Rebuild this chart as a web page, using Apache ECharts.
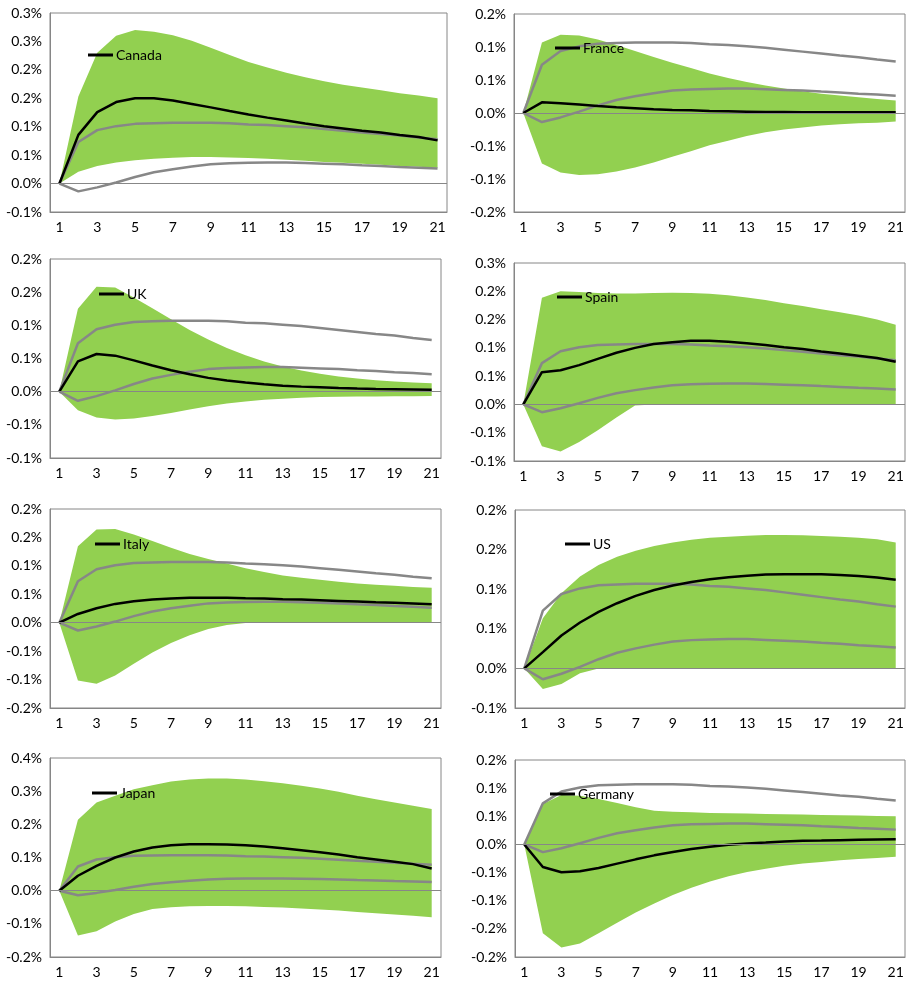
<!DOCTYPE html>
<html>
<head>
<meta charset="utf-8">
<script src="https://cdn.jsdelivr.net/npm/echarts@6/dist/echarts.min.js"></script>
<style>
  html, body { margin: 0; padding: 0; background: #fff; }
  #chart { width: 907px; height: 981px; }
</style>
</head>
<body>
<div id="chart"></div>
<script>
// horizon (periods)
var periods = ['1','2','3','4','5','6','7','8','9','10','11','12','13','14','15','16','17','18','19','20','21'];

// grey reference responses, same in every panel (%)
var refUpper = [0, 0.073, 0.094, 0.101, 0.105, 0.106, 0.107, 0.107, 0.107, 0.106, 0.104, 0.103, 0.101, 0.099, 0.096, 0.093, 0.090, 0.087, 0.0845, 0.081, 0.078];
var refLower = [0, -0.0137, -0.0067, 0.002, 0.0116, 0.0198, 0.0253, 0.030, 0.034, 0.0357, 0.0365, 0.037, 0.037, 0.036, 0.035, 0.034, 0.0324, 0.031, 0.0293, 0.028, 0.0263];

// country responses and bands (%)
var canadaIrf   = [0, 0.0856, 0.1257, 0.1434, 0.150, 0.150, 0.146, 0.140, 0.134, 0.1275, 0.1216, 0.116, 0.111, 0.1057, 0.101, 0.097, 0.093, 0.0897, 0.0856, 0.082, 0.076];
var canadaUpper = [0, 0.153, 0.23, 0.26, 0.27, 0.267, 0.261, 0.251, 0.239, 0.226, 0.214, 0.204, 0.195, 0.187, 0.18, 0.174, 0.169, 0.164, 0.159, 0.155, 0.150];
var canadaLower = [0, 0.0207, 0.031, 0.037, 0.041, 0.0437, 0.0454, 0.0466, 0.0466, 0.046, 0.0449, 0.0437, 0.042, 0.040, 0.038, 0.0366, 0.0348, 0.033, 0.031, 0.0295, 0.0277];

var franceIrf   = [0, 0.0162, 0.0147, 0.0127, 0.0106, 0.0086, 0.0071, 0.0056, 0.0046, 0.004, 0.003, 0.0025, 0.002, 0.0015, 0.0015, 0.0012, 0.001, 0.001, 0.001, 0.001, 0.001];
var franceUpper = [0, 0.107, 0.1186, 0.1176, 0.1115, 0.103, 0.094, 0.0847, 0.076, 0.068, 0.060, 0.053, 0.047, 0.0416, 0.037, 0.033, 0.029, 0.0264, 0.0238, 0.0213, 0.019];
var franceLower = [0, -0.0766, -0.090, -0.094, -0.0928, -0.0887, -0.0826, -0.075, -0.0664, -0.0578, -0.049, -0.042, -0.035, -0.029, -0.025, -0.0218, -0.019, -0.017, -0.0157, -0.0147, -0.013];

var ukIrf   = [0, 0.0456, 0.0568, 0.0543, 0.0472, 0.0395, 0.0324, 0.0264, 0.0208, 0.0167, 0.0137, 0.0112, 0.009, 0.0076, 0.0066, 0.0056, 0.0048, 0.0042, 0.0038, 0.0034, 0.003];
var ukUpper = [0, 0.125, 0.158, 0.157, 0.142, 0.1257, 0.109, 0.093, 0.0786, 0.066, 0.0548, 0.0456, 0.038, 0.032, 0.0269, 0.0228, 0.0198, 0.0172, 0.0152, 0.0137, 0.0127];
var ukLower = [0, -0.0279, -0.039, -0.042, -0.0406, -0.0365, -0.032, -0.0269, -0.0218, -0.0177, -0.0147, -0.0122, -0.0106, -0.009, -0.008, -0.0076, -0.0074, -0.0072, -0.007, -0.0068, -0.0066];

var spainIrf   = [0, 0.0569, 0.0605, 0.0694, 0.0806, 0.0913, 0.100, 0.1067, 0.110, 0.1127, 0.1127, 0.111, 0.108, 0.105, 0.101, 0.098, 0.0937, 0.090, 0.086, 0.082, 0.0753];
var spainUpper = [0, 0.1886, 0.200, 0.1987, 0.197, 0.196, 0.196, 0.197, 0.1975, 0.197, 0.1957, 0.193, 0.189, 0.1844, 0.179, 0.174, 0.1684, 0.163, 0.157, 0.150, 0.141];
var spainLower = [0, -0.074, -0.083, -0.0664, -0.0457, -0.0231, -0.002, 0, 0, 0, 0, 0, 0, 0, 0, 0, 0, 0, 0, 0, 0];

var italyIrf   = [0, 0.0154, 0.0254, 0.0331, 0.0378, 0.0408, 0.0426, 0.0437, 0.0437, 0.0437, 0.043, 0.0426, 0.0414, 0.0408, 0.0396, 0.0384, 0.0372, 0.036, 0.0349, 0.0337, 0.0325];
var italyUpper = [0, 0.1347, 0.164, 0.165, 0.155, 0.1436, 0.132, 0.121, 0.112, 0.104, 0.0957, 0.089, 0.083, 0.079, 0.0756, 0.072, 0.069, 0.0668, 0.065, 0.063, 0.0615];
var italyLower = [0, -0.1017, -0.1075, -0.0928, -0.072, -0.0526, -0.0355, -0.0219, -0.0112, -0.0041, -0.0006, 0, 0, 0, 0, 0, 0, 0, 0, 0, 0];

var usIrf   = [0, 0.0206, 0.0416, 0.058, 0.0714, 0.0823, 0.0916, 0.099, 0.1046, 0.109, 0.1126, 0.115, 0.117, 0.1185, 0.119, 0.119, 0.1189, 0.118, 0.1168, 0.1147, 0.112];
var usUpper = [0, 0.0634, 0.095, 0.116, 0.1306, 0.141, 0.1487, 0.1546, 0.159, 0.1625, 0.165, 0.1663, 0.1676, 0.1684, 0.1684, 0.168, 0.1672, 0.1663, 0.165, 0.163, 0.159];
var usLower = [0, -0.026, -0.0197, -0.006, 0, 0, 0, 0, 0, 0, 0, 0, 0, 0, 0, 0, 0, 0, 0, 0, 0];

var japanIrf   = [0, 0.045, 0.075, 0.100, 0.118, 0.130, 0.137, 0.140, 0.140, 0.139, 0.137, 0.133, 0.128, 0.122, 0.116, 0.109, 0.101, 0.094, 0.087, 0.080, 0.067];
var japanUpper = [0, 0.214, 0.266, 0.286, 0.306, 0.318, 0.329, 0.335, 0.338, 0.338, 0.335, 0.330, 0.324, 0.316, 0.308, 0.298, 0.286, 0.276, 0.266, 0.256, 0.246];
var japanLower = [0, -0.135, -0.122, -0.093, -0.070, -0.055, -0.050, -0.047, -0.046, -0.046, -0.047, -0.049, -0.051, -0.054, -0.057, -0.060, -0.064, -0.068, -0.072, -0.076, -0.080];

var germanyIrf   = [0, -0.040, -0.0494, -0.0476, -0.0418, -0.0341, -0.0265, -0.0194, -0.0135, -0.0082, -0.0041, -0.0006, 0.0018, 0.0035, 0.0053, 0.0065, 0.007, 0.0076, 0.0082, 0.0088, 0.0094];
var germanyUpper = [0, 0.072, 0.088, 0.0864, 0.0806, 0.0735, 0.0659, 0.060, 0.0582, 0.057, 0.0559, 0.0553, 0.0548, 0.0542, 0.0536, 0.053, 0.0524, 0.0518, 0.0512, 0.0506, 0.050];
var germanyLower = [0, -0.1576, -0.183, -0.176, -0.1576, -0.139, -0.121, -0.105, -0.090, -0.077, -0.066, -0.0565, -0.0488, -0.043, -0.038, -0.034, -0.031, -0.028, -0.026, -0.024, -0.022];

var countries = ['Canada', 'France', 'UK', 'Spain', 'Italy', 'US', 'Japan', 'Germany'];
var irfs   = [canadaIrf, franceIrf, ukIrf, spainIrf, italyIrf, usIrf, japanIrf, germanyIrf];
var uppers = [canadaUpper, franceUpper, ukUpper, spainUpper, italyUpper, usUpper, japanUpper, germanyUpper];
var lowers = [canadaLower, franceLower, ukLower, spainLower, italyLower, usLower, japanLower, germanyLower];

// y-axis ranges: [min, max, interval]
var yRanges = [
    [-0.05, 0.30, 0.05], [-0.15, 0.15, 0.05],
    [-0.10, 0.20, 0.05], [-0.10, 0.25, 0.05],
    [-0.15, 0.20, 0.05], [-0.05, 0.20, 0.05],
    [-0.20, 0.40, 0.10], [-0.20, 0.15, 0.05]
];

// layout: grid box and legend spot for each panel
var grids = [
    {left: 50, top: 13, width: 397, height: 199}, {left: 514, top: 14, width: 391, height: 198},
    {left: 50, top: 259, width: 391, height: 199}, {left: 514, top: 263, width: 391, height: 198},
    {left: 50, top: 509, width: 391, height: 199}, {left: 515, top: 510, width: 390, height: 198},
    {left: 50, top: 758, width: 391, height: 199}, {left: 515, top: 760, width: 390, height: 197}
];
var legendPos = [[88, 48], [555, 41], [99, 287], [557, 290], [95, 537], [565, 537], [92, 786], [550, 787]];

var GREEN = '#92d050', GREY = '#878787', AXIS = '#868686';
var FONT = 'Lato';

function pctLabel(v) {
    // Excel style rounding to one decimal (half away from zero)
    var r = Math.sign(v) * Math.round(Math.abs(v) * 10 + 1e-6) / 10;
    return r.toFixed(1) + '%';
}

var option = {
    animation: false,
    backgroundColor: '#fff',
    textStyle: {fontFamily: FONT},
    grid: [], xAxis: [], yAxis: [], legend: [], series: []
};

for (var i = 0; i < countries.length; i++) {
    var g = grids[i];
    option.grid.push({
        left: g.left, top: g.top, width: g.width, height: g.height,
        show: true, borderColor: AXIS, borderWidth: 1, backgroundColor: 'transparent'
    });
    option.xAxis.push({
        type: 'category', gridIndex: i, data: periods, boundaryGap: true,
        axisLine: {onZero: false, lineStyle: {color: AXIS, width: 1}},
        axisTick: {show: false},
        axisLabel: {interval: 1, margin: 8, color: '#000', fontSize: 14, fontFamily: FONT},
        splitLine: {show: false}
    });
    option.yAxis.push({
        type: 'value', gridIndex: i,
        min: yRanges[i][0], max: yRanges[i][1], interval: yRanges[i][2],
        axisLine: {show: true, lineStyle: {color: AXIS, width: 1}},
        axisTick: {show: false},
        axisLabel: {margin: 8, color: '#000', fontSize: 14, fontFamily: FONT, formatter: pctLabel},
        splitLine: {show: false}
    });
    option.legend.push({
        data: [countries[i]], left: legendPos[i][0], top: legendPos[i][1],
        padding: 0, icon: 'rect', itemWidth: 25, itemHeight: 3,
        textStyle: {color: '#000', fontSize: 14, fontFamily: FONT, padding: [0, 0, 0, -2]},
        selectedMode: false
    });

    var band = [];
    for (var k = 0; k < periods.length; k++) band.push(uppers[i][k] - lowers[i][k]);

    option.series.push({
        type: 'line', xAxisIndex: i, yAxisIndex: i, stack: 'band' + i, stackStrategy: 'all',
        data: lowers[i], symbol: 'none', lineStyle: {opacity: 0}, silent: true, z: 1
    });
    option.series.push({
        type: 'line', xAxisIndex: i, yAxisIndex: i, stack: 'band' + i, stackStrategy: 'all',
        data: band, symbol: 'none', lineStyle: {opacity: 0},
        areaStyle: {color: GREEN, opacity: 1}, silent: true, z: 1
    });
    option.series.push({
        type: 'line', xAxisIndex: i, yAxisIndex: i, data: refUpper, symbol: 'none',
        lineStyle: {color: GREY, width: 2.5}, silent: true, z: 3
    });
    option.series.push({
        type: 'line', xAxisIndex: i, yAxisIndex: i, data: refLower, symbol: 'none',
        lineStyle: {color: GREY, width: 2.5}, silent: true, z: 3,
        markLine: {
            silent: true, symbol: 'none', label: {show: false},
            lineStyle: {color: GREY, width: 1, type: 'solid'},
            data: [{yAxis: 0}]
        }
    });
    option.series.push({
        name: countries[i], type: 'line', xAxisIndex: i, yAxisIndex: i, data: irfs[i],
        symbol: 'none', color: '#000', lineStyle: {color: '#000', width: 2.5}, z: 4
    });
}

var myChart = echarts.init(document.getElementById('chart'));
myChart.setOption(option);
</script>
</body>
</html>
